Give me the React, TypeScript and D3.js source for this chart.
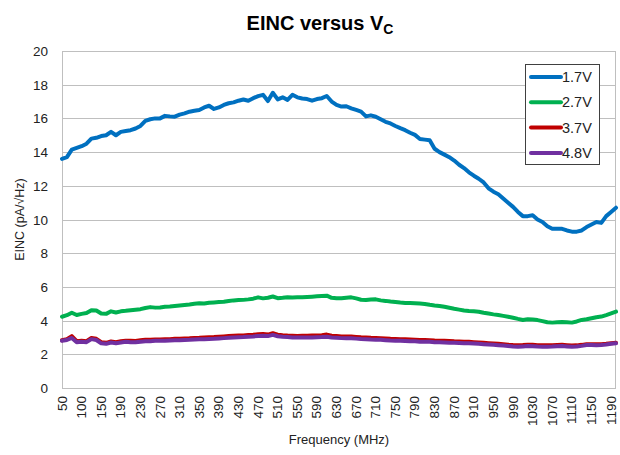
import * as d3 from 'd3';

// categories (MHz): first eight steps are coarse, then 10 MHz steps to 1200
const FREQ = [50, 62.5, 75, 87.5, 100, 112.5, 125, 137.5, ...d3.range(150, 1201, 10)];

const V17 = [
  13.6, 13.7, 14.15, 14.25, 14.35, 14.5, 14.8, 14.85, 14.95, 15.0,
  15.2, 15.0, 15.2, 15.25, 15.3, 15.4, 15.55, 15.85, 15.95, 16.0,
  16.0, 16.15, 16.12, 16.1, 16.22, 16.3, 16.4, 16.45, 16.5, 16.65,
  16.75, 16.56, 16.65, 16.8, 16.9, 16.95, 17.05, 17.12, 17.05, 17.2,
  17.32, 17.4, 17.03, 17.52, 17.13, 17.25, 17.1, 17.4, 17.25, 17.18,
  17.15, 17.05, 17.15, 17.2, 17.33, 17.0, 16.8, 16.7, 16.72, 16.6,
  16.5, 16.4, 16.12, 16.18, 16.1, 15.95, 15.8, 15.7, 15.55, 15.42,
  15.3, 15.15, 15.02, 14.78, 14.74, 14.7, 14.2, 14.0, 13.85, 13.7,
  13.5, 13.25, 13.05, 12.8, 12.6, 12.42, 12.2, 11.85, 11.65, 11.5,
  11.25, 11.0, 10.75, 10.45, 10.2, 10.2, 10.25, 10.0, 9.85, 9.6,
  9.45, 9.45, 9.45, 9.35, 9.28, 9.28, 9.35, 9.55, 9.7, 9.85,
  9.8, 10.2, 10.45, 10.7,
];

const V27 = [
  4.23, 4.32, 4.47, 4.33, 4.4, 4.45, 4.62, 4.6, 4.42, 4.4,
  4.55, 4.48, 4.55, 4.58, 4.62, 4.65, 4.68, 4.75, 4.8, 4.77,
  4.78, 4.82, 4.84, 4.87, 4.9, 4.93, 4.96, 5.0, 5.03, 5.02,
  5.06, 5.08, 5.1, 5.12, 5.16, 5.2, 5.22, 5.23, 5.26, 5.3,
  5.38, 5.32, 5.36, 5.43, 5.33, 5.35, 5.38, 5.37, 5.38, 5.38,
  5.4, 5.42, 5.44, 5.46, 5.48, 5.35, 5.32, 5.33, 5.36, 5.38,
  5.32, 5.24, 5.22, 5.25, 5.26, 5.2, 5.17, 5.13, 5.1, 5.07,
  5.05, 5.04, 5.03, 5.01, 4.99, 4.94, 4.9, 4.87, 4.82, 4.76,
  4.7, 4.65, 4.6, 4.57, 4.55, 4.53, 4.47, 4.42, 4.37, 4.33,
  4.28, 4.23, 4.17, 4.1, 4.04, 4.08, 4.06, 4.03, 3.97, 3.9,
  3.88, 3.9, 3.92, 3.9, 3.88, 3.95, 4.04, 4.08, 4.14, 4.2,
  4.24, 4.33, 4.43, 4.53,
];

const V37 = [
  2.83, 2.9, 3.08, 2.78, 2.8, 2.78, 2.97, 2.92, 2.72, 2.68,
  2.76, 2.72, 2.77, 2.8, 2.8, 2.79, 2.83, 2.86, 2.86, 2.88,
  2.88, 2.89, 2.9, 2.92, 2.93, 2.94, 2.95, 2.97, 2.98, 3.0,
  3.01, 3.02, 3.04, 3.06, 3.08, 3.1, 3.11, 3.12, 3.14, 3.16,
  3.19, 3.2, 3.17, 3.25, 3.16, 3.13, 3.11, 3.1, 3.09, 3.1,
  3.1, 3.11, 3.12, 3.13, 3.17, 3.1, 3.08, 3.06, 3.05, 3.05,
  3.03, 3.01, 3.0, 2.98, 2.97, 2.96, 2.94, 2.92, 2.91, 2.9,
  2.89, 2.88, 2.87, 2.85, 2.85, 2.84, 2.82, 2.81, 2.8, 2.79,
  2.77, 2.76, 2.75, 2.74, 2.72, 2.7, 2.68, 2.66, 2.64, 2.62,
  2.6, 2.57, 2.55, 2.54, 2.55, 2.57, 2.56, 2.54, 2.53, 2.53,
  2.54, 2.55, 2.56, 2.54, 2.52, 2.53, 2.56, 2.6, 2.6, 2.59,
  2.6, 2.62, 2.65, 2.68,
];

const V48 = [
  2.8, 2.85, 2.97, 2.72, 2.75, 2.72, 2.9, 2.85, 2.65, 2.62,
  2.7, 2.66, 2.7, 2.74, 2.72, 2.71, 2.75, 2.78, 2.78, 2.8,
  2.8, 2.81, 2.82, 2.83, 2.84, 2.85, 2.86, 2.88, 2.89, 2.9,
  2.91, 2.92, 2.94, 2.96, 2.98, 3.0, 3.01, 3.02, 3.04, 3.06,
  3.09, 3.1, 3.08, 3.15, 3.07, 3.04, 3.02, 3.0, 2.99, 3.0,
  3.0, 3.0, 3.01, 3.02, 3.04, 3.0, 2.98, 2.96, 2.95, 2.95,
  2.93, 2.91, 2.9, 2.88, 2.87, 2.86, 2.84, 2.82, 2.81, 2.8,
  2.79, 2.78, 2.77, 2.75, 2.75, 2.74, 2.72, 2.71, 2.7, 2.69,
  2.68, 2.67, 2.66, 2.65, 2.64, 2.62, 2.6, 2.58, 2.56, 2.54,
  2.52, 2.49, 2.46, 2.45, 2.47, 2.49, 2.48, 2.46, 2.45, 2.45,
  2.46, 2.48, 2.49, 2.47, 2.45, 2.46, 2.5, 2.55, 2.55, 2.54,
  2.55, 2.58, 2.62, 2.65,
];

const SERIES = [
  { name: '1.7V', color: '#0070C0', values: V17 },
  { name: '2.7V', color: '#00B050', values: V27 },
  { name: '3.7V', color: '#C00000', values: V37 },
  { name: '4.8V', color: '#7030A0', values: V48 },
];

const Y_TICKS = [0, 2, 4, 6, 8, 10, 12, 14, 16, 18, 20];

const W = 620;
const H = 455;
const margin = { top: 51, right: 4, bottom: 67, left: 62 };
const FONT = '"Liberation Sans", Arial, sans-serif';

export default function App() {
  const x = d3.scalePoint<number>().domain(FREQ).range([margin.left, W - margin.right]);
  const y = d3.scaleLinear().domain([0, 20]).range([H - margin.bottom, margin.top]);
  const line = d3.line<number>()
    .x((_, i) => x(FREQ[i]) as number)
    .y(d => y(d));

  const xLabels = FREQ.filter((_, i) => i % 4 === 0);
  const plotL = margin.left;
  const plotR = W - margin.right;
  const plotT = margin.top;
  const plotB = H - margin.bottom;

  // legend box
  const lg = { x: 525.5, y: 64.5, w: 74, h: 100 };

  return (
    <svg width={W} height={H} style={{ position: 'absolute', left: 0, top: 0, background: '#fff' }} fontFamily={FONT}>
      <text x={320} y={30} textAnchor="middle" fontSize={20} fontWeight="bold" fill="#000">
        EINC versus V<tspan fontSize={14} dy={4}>C</tspan>
      </text>

      {/* grid */}
      {Y_TICKS.map(t => (
        <line key={t} x1={plotL} x2={plotR} y1={Math.round(y(t)) + 0.5} y2={Math.round(y(t)) + 0.5} stroke="#BFBFBF" strokeWidth={1} />
      ))}
      <rect x={plotL + 0.5} y={Math.round(plotT) + 0.5} width={plotR - plotL - 1} height={Math.round(plotB) - Math.round(plotT)} fill="none" stroke="#BFBFBF" />

      {/* y ticks */}
      {Y_TICKS.map(t => (
        <text key={t} x={48} y={y(t) + 5} textAnchor="end" fontSize={13.5} fill="#222">{t}</text>
      ))}
      <text transform={`translate(24,${(plotT + plotB) / 2}) rotate(-90)`} textAnchor="middle" fontSize={12.5} fill="#222">
        EINC (pA/√Hz)
      </text>

      {/* x ticks */}
      {xLabels.map(f => (
        <text key={f} transform={`translate(${(x(f) as number) + 4.5},396) rotate(-90)`} textAnchor="end" fontSize={13.5} fill="#222">
          {f}
        </text>
      ))}
      <text x={(plotL + plotR) / 2} y={444} textAnchor="middle" fontSize={13} fill="#222">Frequency (MHz)</text>

      {/* series */}
      {SERIES.map(s => (
        <path key={s.name} d={line(s.values) || ''} fill="none" stroke={s.color} strokeWidth={4} strokeLinejoin="round" strokeLinecap="round" />
      ))}

      {/* legend */}
      <rect x={lg.x} y={lg.y} width={lg.w} height={lg.h} fill="#fff" stroke="#404040" strokeWidth={1} />
      {SERIES.map((s, i) => {
        const cy = 77 + i * 25.3;
        return (
          <g key={s.name}>
            <line x1={531} x2={561} y1={cy} y2={cy} stroke={s.color} strokeWidth={4} strokeLinecap="round" />
            <text x={562} y={cy + 5} fontSize={14.5} fill="#222">{s.name}</text>
          </g>
        );
      })}
    </svg>
  );
}
